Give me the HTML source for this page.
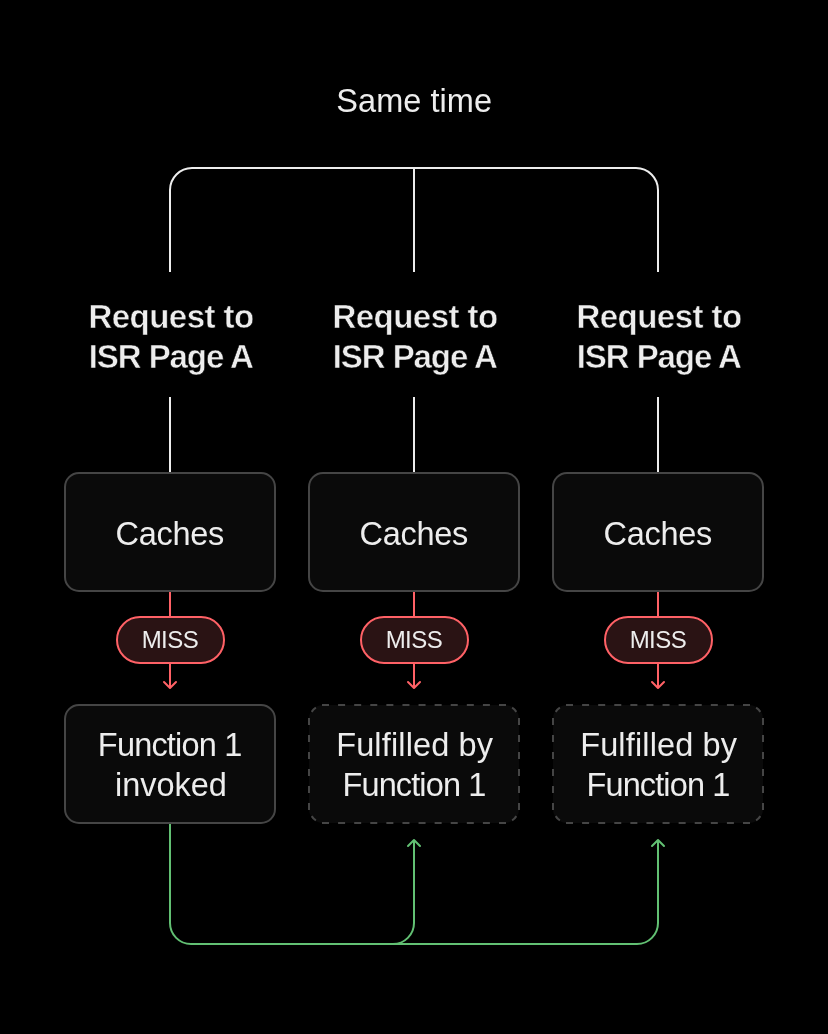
<!DOCTYPE html>
<html>
<head>
<meta charset="utf-8">
<style>
html,body{margin:0;padding:0;background:#000;}
body{width:828px;height:1034px;overflow:hidden;}
svg{display:block;will-change:transform;}
text{font-family:"Liberation Sans",sans-serif;fill:#ededed;}
</style>
</head>
<body>
<svg width="828" height="1034" viewBox="0 0 828 1034">
<rect x="0" y="0" width="828" height="1034" fill="#000"/>

<text x="414.21" y="112.00" font-size="32.5" letter-spacing="0.045" text-anchor="middle">Same time</text>
<g fill="none" stroke="#ededed" stroke-width="2">
<path d="M170 272 V190 A22 22 0 0 1 192 168 H636 A22 22 0 0 1 658 190 V272"/>
<path d="M414 168 V272"/>
<path d="M170 397 V472"/>
<path d="M414 397 V472"/>
<path d="M658 397 V472"/>
</g>
<text x="171.07" y="328.00" font-size="33" letter-spacing="-0.517" font-weight="bold" stroke="#000" stroke-width="0.5" text-anchor="middle">Request to</text>
<text x="170.79" y="368.00" font-size="33" letter-spacing="-1.076" font-weight="bold" stroke="#000" stroke-width="0.5" text-anchor="middle">ISR Page A</text>
<text x="415.07" y="328.00" font-size="33" letter-spacing="-0.517" font-weight="bold" stroke="#000" stroke-width="0.5" text-anchor="middle">Request to</text>
<text x="414.79" y="368.00" font-size="33" letter-spacing="-1.076" font-weight="bold" stroke="#000" stroke-width="0.5" text-anchor="middle">ISR Page A</text>
<text x="659.07" y="328.00" font-size="33" letter-spacing="-0.517" font-weight="bold" stroke="#000" stroke-width="0.5" text-anchor="middle">Request to</text>
<text x="658.79" y="368.00" font-size="33" letter-spacing="-1.076" font-weight="bold" stroke="#000" stroke-width="0.5" text-anchor="middle">ISR Page A</text>
<rect x="65" y="473" width="210" height="118" rx="14" fill="#0a0a0a" stroke="#454545" stroke-width="2"/>
<text x="169.73" y="544.50" font-size="32.5" letter-spacing="-0.303" text-anchor="middle">Caches</text>
<path d="M170 592 V616 M170 664 V687" fill="none" stroke="#ff6166" stroke-width="2"/><path d="M164 682 L170 688 L176 682" fill="none" stroke="#ff6166" stroke-width="2" stroke-linecap="round" stroke-linejoin="round"/>
<rect x="117" y="617" width="107" height="46" rx="23" fill="#2a1314" stroke="#ff6166" stroke-width="2"/>
<text x="169.90" y="648.00" font-size="24" letter-spacing="-0.534" text-anchor="middle">MISS</text>
<rect x="309" y="473" width="210" height="118" rx="14" fill="#0a0a0a" stroke="#454545" stroke-width="2"/>
<text x="413.73" y="544.50" font-size="32.5" letter-spacing="-0.303" text-anchor="middle">Caches</text>
<path d="M414 592 V616 M414 664 V687" fill="none" stroke="#ff6166" stroke-width="2"/><path d="M408 682 L414 688 L420 682" fill="none" stroke="#ff6166" stroke-width="2" stroke-linecap="round" stroke-linejoin="round"/>
<rect x="361" y="617" width="107" height="46" rx="23" fill="#2a1314" stroke="#ff6166" stroke-width="2"/>
<text x="413.90" y="648.00" font-size="24" letter-spacing="-0.534" text-anchor="middle">MISS</text>
<rect x="553" y="473" width="210" height="118" rx="14" fill="#0a0a0a" stroke="#454545" stroke-width="2"/>
<text x="657.73" y="544.50" font-size="32.5" letter-spacing="-0.303" text-anchor="middle">Caches</text>
<path d="M658 592 V616 M658 664 V687" fill="none" stroke="#ff6166" stroke-width="2"/><path d="M652 682 L658 688 L664 682" fill="none" stroke="#ff6166" stroke-width="2" stroke-linecap="round" stroke-linejoin="round"/>
<rect x="605" y="617" width="107" height="46" rx="23" fill="#2a1314" stroke="#ff6166" stroke-width="2"/>
<text x="657.90" y="648.00" font-size="24" letter-spacing="-0.534" text-anchor="middle">MISS</text>
<rect x="65" y="705" width="210" height="118" rx="14" fill="#0a0a0a" stroke="#454545" stroke-width="2"/>
<rect x="309" y="705" width="210" height="118" rx="14" fill="#0a0a0a"/>
<path d="M322.00 705H329.00M322.00 823H329.00M338.09 705H345.09M338.09 823H345.09M354.18 705H361.18M354.18 823H361.18M370.27 705H377.27M370.27 823H377.27M386.36 705H393.36M386.36 823H393.36M402.45 705H409.45M402.45 823H409.45M418.55 705H425.55M418.55 823H425.55M434.64 705H441.64M434.64 823H441.64M450.73 705H457.73M450.73 823H457.73M466.82 705H473.82M466.82 823H473.82M482.91 705H489.91M482.91 823H489.91M499.00 705H506.00M499.00 823H506.00M309 718.00V725.00M519 718.00V725.00M309 735.00V742.00M519 735.00V742.00M309 752.00V759.00M519 752.00V759.00M309 769.00V776.00M519 769.00V776.00M309 786.00V793.00M519 786.00V793.00M309 803.00V810.00M519 803.00V810.00M311.68 711.88A12 12 0 0 1 315.88 707.68M512.12 707.68A12 12 0 0 1 516.32 711.88M516.32 816.12A12 12 0 0 1 512.12 820.32M315.88 820.32A12 12 0 0 1 311.68 816.12" fill="none" stroke="#454545" stroke-width="2"/>
<rect x="553" y="705" width="210" height="118" rx="14" fill="#0a0a0a"/>
<path d="M566.00 705H573.00M566.00 823H573.00M582.09 705H589.09M582.09 823H589.09M598.18 705H605.18M598.18 823H605.18M614.27 705H621.27M614.27 823H621.27M630.36 705H637.36M630.36 823H637.36M646.45 705H653.45M646.45 823H653.45M662.55 705H669.55M662.55 823H669.55M678.64 705H685.64M678.64 823H685.64M694.73 705H701.73M694.73 823H701.73M710.82 705H717.82M710.82 823H717.82M726.91 705H733.91M726.91 823H733.91M743.00 705H750.00M743.00 823H750.00M553 718.00V725.00M763 718.00V725.00M553 735.00V742.00M763 735.00V742.00M553 752.00V759.00M763 752.00V759.00M553 769.00V776.00M763 769.00V776.00M553 786.00V793.00M763 786.00V793.00M553 803.00V810.00M763 803.00V810.00M555.68 711.88A12 12 0 0 1 559.88 707.68M756.12 707.68A12 12 0 0 1 760.32 711.88M760.32 816.12A12 12 0 0 1 756.12 820.32M559.88 820.32A12 12 0 0 1 555.68 816.12" fill="none" stroke="#454545" stroke-width="2"/>
<text x="169.65" y="756.00" font-size="32.5" letter-spacing="-0.815" text-anchor="middle">Function 1</text>
<text x="170.92" y="796.00" font-size="32.5" letter-spacing="-0.023" text-anchor="middle">invoked</text>
<text x="414.70" y="756.00" font-size="32.5" letter-spacing="0.143" text-anchor="middle">Fulfilled by</text>
<text x="413.96" y="796.00" font-size="32.5" letter-spacing="-0.876" text-anchor="middle">Function 1</text>
<text x="658.70" y="756.00" font-size="32.5" letter-spacing="0.143" text-anchor="middle">Fulfilled by</text>
<text x="657.96" y="796.00" font-size="32.5" letter-spacing="-0.876" text-anchor="middle">Function 1</text>
<g fill="none" stroke="#62c073" stroke-width="2">
<path d="M170 824 V923 A21 21 0 0 0 191 944 H637 A21 21 0 0 0 658 923 V840"/>
<path d="M393 944 A21 21 0 0 0 414 923 V840"/>
<path d="M408 846 L414 840 L420 846" stroke-linecap="round" stroke-linejoin="round"/>
<path d="M652 846 L658 840 L664 846" stroke-linecap="round" stroke-linejoin="round"/>
</g>
</svg>
</body>
</html>
